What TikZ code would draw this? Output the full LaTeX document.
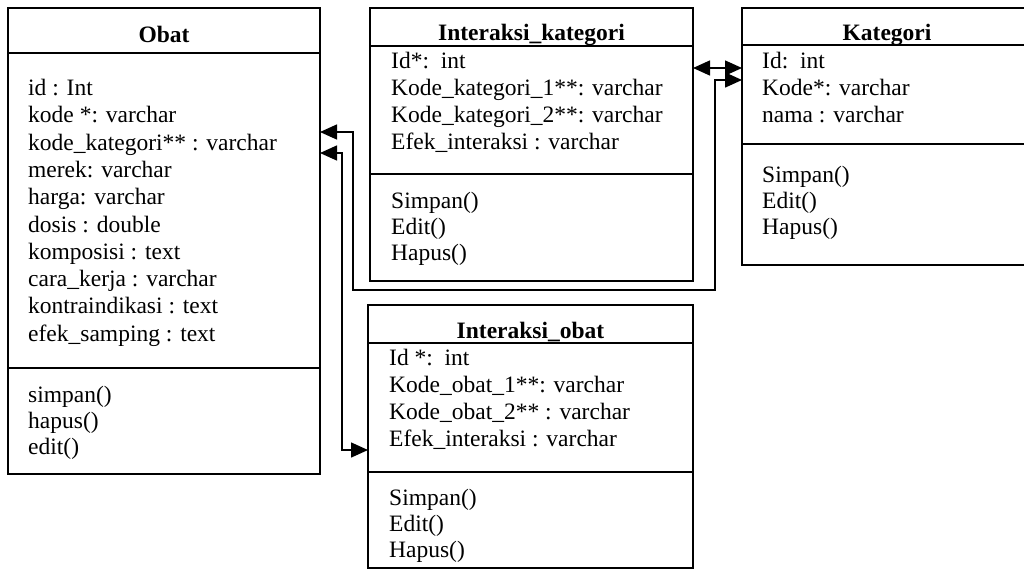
\documentclass[tikz,border=0pt]{standalone}
\usepackage{fontspec}
\setmainfont{Liberation Serif}
\usetikzlibrary{arrows.meta}

\tikzset{
  classbox/.style={draw, line width=1.3pt, outer sep=0pt, inner sep=0pt, anchor=north west},
  divider/.style={line width=1.6pt},
  title/.style={anchor=base, inner sep=0pt, font=\fontsize{23.5}{27}\selectfont\bfseries},
  attrs/.style={anchor=base west, inner sep=0pt, font=\fontsize{23.5}{27.3}\selectfont},
  ops/.style={anchor=base west, inner sep=0pt, font=\fontsize{23.5}{26.3}\selectfont},
  conn/.style={line width=1.5pt, {Triangle[length=17pt,width=15pt]}-{Triangle[length=17pt,width=15pt]}}
}

\begin{document}
\begin{tikzpicture}[x=1pt, y=-1pt]
\clip (0,0) rectangle (1024,576);
\fill[white] (0,0) rectangle (1024,576);

% class boxes
\node[classbox, minimum width=312pt, minimum height=466pt] (obat) at (8,8) {};
\node[classbox, minimum width=323pt, minimum height=273pt] (ikat) at (370,8) {};
\node[classbox, minimum width=290pt, minimum height=257pt] (kat) at (742,8) {};
\node[classbox, minimum width=325pt, minimum height=263pt] (iobat) at (368,305) {};

% compartment dividers
\draw[divider] ([yshift=-45pt]obat.north west) -- ([yshift=-45pt]obat.north east);
\draw[divider] ([yshift=-360pt]obat.north west) -- ([yshift=-360pt]obat.north east);
\draw[divider] ([yshift=-38pt]ikat.north west) -- ([yshift=-38pt]ikat.north east);
\draw[divider] ([yshift=-166pt]ikat.north west) -- ([yshift=-166pt]ikat.north east);
\draw[divider] ([yshift=-37pt]kat.north west) -- ([yshift=-37pt]kat.north east);
\draw[divider] ([yshift=-136pt]kat.north west) -- ([yshift=-136pt]kat.north east);
\draw[divider] ([yshift=-38pt]iobat.north west) -- ([yshift=-38pt]iobat.north east);
\draw[divider] ([yshift=-167pt]iobat.north west) -- ([yshift=-167pt]iobat.north east);

% Obat
\node[title] (obatT) at (164,42) {Obat};
\node[attrs] (obatA) at (28,95.5) {\begin{tabular}[t]{@{}l@{}}
id : Int\\
kode *: varchar\\
kode\_kategori** : varchar\\
merek: varchar\\
harga: varchar\\
dosis : double\\
komposisi : text\\
cara\_kerja : varchar\\
kontraindikasi : text\\
efek\_samping : text
\end{tabular}};
\node[ops] (obatO) at (28,402) {\begin{tabular}[t]{@{}l@{}}
simpan()\\
hapus()\\
edit()
\end{tabular}};

% Interaksi_kategori
\node[title] (ikatT) at (531.5,40) {Interaksi\_kategori};
\node[attrs] (ikatA) at (391,68) {\begin{tabular}[t]{@{}l@{}}
Id*:\ \ int\\
Kode\_kategori\_1**: varchar\\
Kode\_kategori\_2**: varchar\\
Efek\_interaksi : varchar
\end{tabular}};
\node[ops] (ikatO) at (391,208) {\begin{tabular}[t]{@{}l@{}}
Simpan()\\
Edit()\\
Hapus()
\end{tabular}};

% Kategori
\node[title] (katT) at (887,40) {Kategori};
\node[attrs] (katA) at (762,68) {\begin{tabular}[t]{@{}l@{}}
Id:\ \ int\\
Kode*: varchar\\
nama : varchar
\end{tabular}};
\node[ops] (katO) at (762,182) {\begin{tabular}[t]{@{}l@{}}
Simpan()\\
Edit()\\
Hapus()
\end{tabular}};

% Interaksi_obat
\node[title] (iobatT) at (530.5,338) {Interaksi\_obat};
\node[attrs] (iobatA) at (389,365) {\begin{tabular}[t]{@{}l@{}}
Id *:\ \ int\\
Kode\_obat\_1**: varchar\\
Kode\_obat\_2** : varchar\\
Efek\_interaksi : varchar
\end{tabular}};
\node[ops] (iobatO) at (389,505) {\begin{tabular}[t]{@{}l@{}}
Simpan()\\
Edit()\\
Hapus()
\end{tabular}};

% relations
\coordinate (r1a) at (353,290);
\coordinate (r1b) at (715,290);
\coordinate (r2a) at (342,450);
\draw[conn] ([yshift=-124pt]obat.north east) -| (r1a) -- (r1b) |- ([yshift=-72pt]kat.north west);
\draw[conn] ([yshift=-145pt]obat.north east) -| (r2a) -- ([yshift=-145pt]iobat.north west);
\draw[conn] ([yshift=-60pt]ikat.north east) -- ([yshift=-60pt]kat.north west);
\end{tikzpicture}
\end{document}
